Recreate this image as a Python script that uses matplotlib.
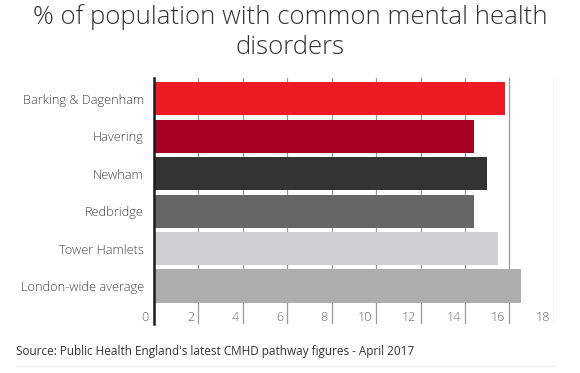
import matplotlib.pyplot as plt

# data
areas = ["Barking & Dagenham", "Havering", "Newham", "Redbridge",
         "Tower Hamlets", "London-wide average"]
values = [15.8, 14.4, 15.0, 14.4, 15.5, 16.5]
colors = ["#ED1C24", "#A50021", "#333333", "#666666", "#D0D0D2", "#ADADAD"]
xticks = [0, 2, 4, 6, 8, 10, 12, 14, 16, 18]

plt.rcParams['font.family'] = ['Open Sans', 'DejaVu Sans']

fig = plt.figure(figsize=(5.8, 3.73), dpi=100)
ax = fig.add_axes([0.265, 0.131, 0.69, 0.66])

pos = list(range(len(areas)))
ax.barh(pos, values, height=0.885, color=colors, zorder=2)

ax.set_xlim(0, 18)
ax.set_ylim(6.02, -0.556)

# vertical grid lines
for t in xticks[1:]:
    ax.axvline(t, color="#9a9a9a", lw=0.9, zorder=1)
    ax.text(t - 0.18, 5.83, str(t), ha="right", va="center",
            fontsize=9, color="#666666", fontweight="light")
ax.text(-0.25, 5.83, "0", ha="right", va="center", fontsize=9,
        color="#666666", fontweight="light")

for s in ["top", "right", "bottom"]:
    ax.spines[s].set_visible(False)
ax.spines["left"].set_color("#1a1a1a")
ax.spines["left"].set_linewidth(1.8)
ax.spines["left"].set_zorder(3)

ax.set_xticks([])
ax.set_yticks(pos)
ax.set_yticklabels(areas, fontsize=9.2, color="#444444", fontweight="light")
ax.tick_params(axis="y", length=0, pad=7)

fig.text(0.5, 0.99, "% of population with common mental health\ndisorders",
         ha="center", va="top", fontsize=18.5, color="#333333",
         fontweight="light", linespacing=1.3)

fig.text(0.028, 0.058, "Source: Public Health England's latest CMHD pathway figures - April 2017",
         ha="left", va="center", fontsize=8.5, color="#333333")

fig.add_artist(plt.Line2D([0.028, 0.957], [0.018, 0.018], color="#eeeeee", lw=1))

fig.savefig("out.png", dpi=100, facecolor="white")
